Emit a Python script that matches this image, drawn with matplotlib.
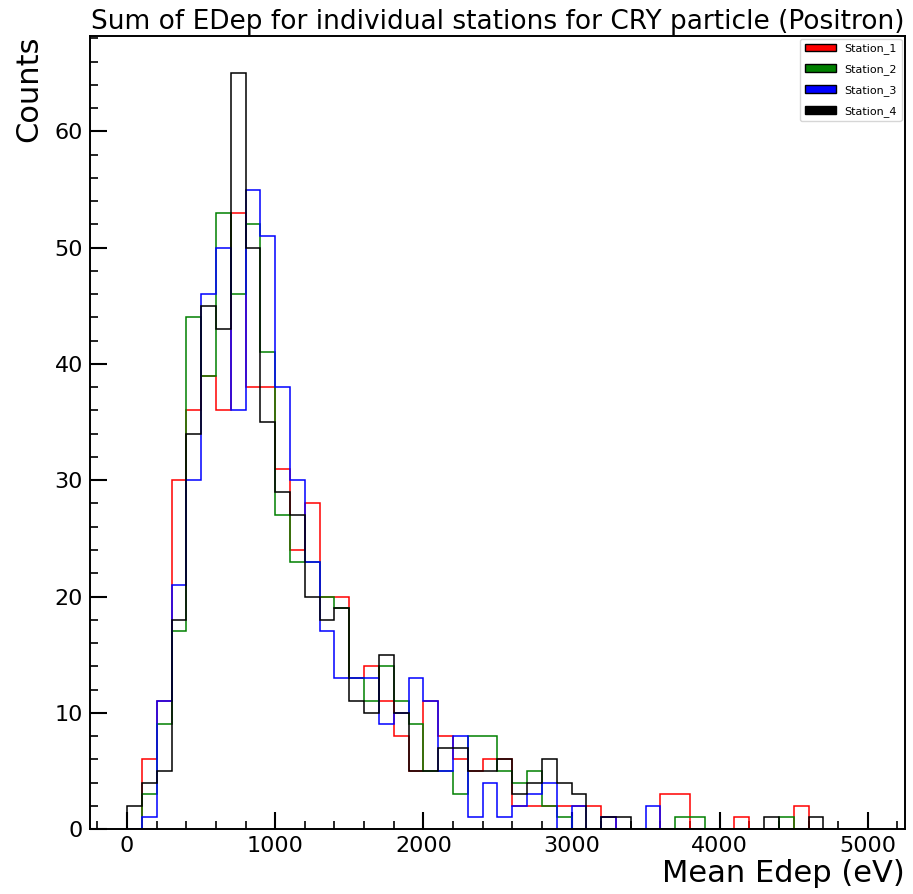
import numpy as np
import matplotlib
matplotlib.use("Agg")
import matplotlib.pyplot as plt
from matplotlib.patches import Patch
from matplotlib.ticker import MultipleLocator

# bin edges: 50 bins of 100 eV from 0 to 5000
edges = np.arange(0, 5001, 100)

station_1 = [0, 6, 11, 30, 36, 39, 36, 53, 38, 38, 31, 24, 28, 20, 20, 13, 14, 11, 8, 5,
             11, 8, 6, 5, 6, 6, 2, 2, 2, 2, 2, 2, 1, 0, 0, 0, 3, 3, 0, 0,
             0, 1, 0, 0, 0, 2, 0, 0, 0, 0]
station_2 = [0, 3, 9, 17, 44, 39, 53, 46, 52, 41, 27, 23, 23, 20, 19, 13, 11, 14, 11, 9,
             5, 5, 3, 8, 8, 5, 4, 5, 2, 1, 0, 0, 0, 0, 0, 0, 0, 1, 1, 0,
             0, 0, 0, 0, 1, 0, 0, 0, 0, 0]
station_3 = [0, 1, 11, 21, 30, 46, 50, 36, 55, 51, 38, 30, 23, 17, 13, 13, 13, 9, 10, 13,
             11, 5, 8, 1, 4, 1, 2, 3, 4, 0, 2, 0, 1, 0, 0, 2, 0, 0, 0, 0,
             0, 0, 0, 0, 0, 0, 0, 0, 0, 0]
station_4 = [2, 4, 5, 18, 34, 45, 43, 65, 50, 35, 29, 27, 20, 18, 19, 11, 10, 15, 10, 5,
             5, 7, 7, 5, 5, 6, 3, 4, 6, 4, 3, 0, 1, 1, 0, 0, 0, 0, 0, 0,
             0, 0, 0, 1, 0, 0, 1, 0, 0, 0]

labels = ["Station_1", "Station_2", "Station_3", "Station_4"]
colors = ["red", "green", "blue", "black"]
series = [station_1, station_2, station_3, station_4]

centers = (edges[:-1] + edges[1:]) / 2

fig = plt.figure(figsize=(9.13, 8.94), dpi=100)
ax = fig.add_axes([0.0986, 0.0727, 0.8925, 0.8875])

for counts, col in zip(series, colors):
    ax.hist(centers, bins=edges, weights=counts, histtype="step", color=col, linewidth=1.1)

ax.set_title("Sum of EDep for individual stations for CRY particle (Positron)", fontsize=19, pad=5)
ax.set_xlabel("Mean Edep (eV)", fontsize=22, loc="right", labelpad=2)
ax.set_ylabel("Counts", fontsize=22, loc="top", labelpad=8)

ax.xaxis.set_major_locator(MultipleLocator(1000))
ax.xaxis.set_minor_locator(MultipleLocator(200))
ax.yaxis.set_major_locator(MultipleLocator(10))
ax.yaxis.set_minor_locator(MultipleLocator(2))
ax.tick_params(which="both", direction="in", labelsize=16)
ax.tick_params(which="major", length=12, width=1.5, pad=5)
ax.tick_params(which="minor", length=6, width=1.2)
for s in ax.spines.values():
    s.set_linewidth(1.4)

handles = [Patch(facecolor=c, edgecolor="black", label=l) for c, l in zip(colors, labels)]
ax.legend(handles=handles, loc="upper right", fontsize=8, handlelength=2.8,
          labelspacing=0.9, borderaxespad=0.3)

fig.savefig("out.png", dpi=100)
